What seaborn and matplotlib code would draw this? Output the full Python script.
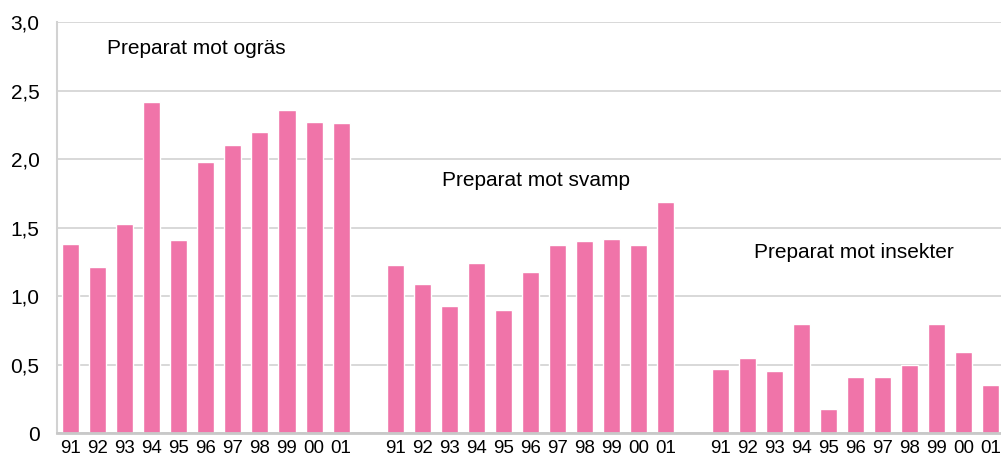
import numpy as np
import pandas as pd
import matplotlib
matplotlib.use("Agg")
import matplotlib.pyplot as plt
import seaborn as sns

# Data
years = ["91", "92", "93", "94", "95", "96", "97", "98", "99", "00", "01"]
ogras = [1.38, 1.21, 1.53, 2.42, 1.41, 1.98, 2.10, 2.20, 2.36, 2.27, 2.26]
svamp = [1.23, 1.09, 0.93, 1.24, 0.90, 1.18, 1.37, 1.40, 1.42, 1.37, 1.69]
insekter = [0.47, 0.55, 0.455, 0.80, 0.18, 0.41, 0.41, 0.50, 0.80, 0.59, 0.35]
group_names = ["Preparat mot ogräs", "Preparat mot svamp", "Preparat mot insekter"]
y_ticks = [0, 0.5, 1.0, 1.5, 2.0, 2.5, 3.0]
y_tick_labels = ["0", "0,5", "1,0", "1,5", "2,0", "2,5", "3,0"]

sns.set_style("white")
plt.rcParams["font.family"] = ["Liberation Sans", "DejaVu Sans"]

rows = []
for g, vals in enumerate([ogras, svamp, insekter]):
    for i, (yr, v) in enumerate(zip(years, vals)):
        rows.append({"pos": g * 12 + i, "year": yr, "value": v, "group": group_names[g]})
df = pd.DataFrame(rows)

fig = plt.figure(figsize=(10.01, 4.59), dpi=100)
ax = fig.add_axes([0.0574, 0.056, 0.9426, 0.896])

ax.set_axisbelow(True)
for t in y_ticks:
    ax.axhline(t, color="#d2d2d2", lw=1.2, zorder=0)

sns.barplot(data=df, x="pos", y="value", native_scale=True, color="#F074A9",
            saturation=1, width=0.63, ax=ax, zorder=2)

ax.set_xlim(-0.48, 34.38)
ax.set_ylim(0, 3.0)
ax.set_xticks(df["pos"])
ax.set_xticklabels(df["year"])
ax.set_yticks(y_ticks)
ax.set_yticklabels(y_tick_labels)
ax.tick_params(axis="y", length=0, pad=13, labelsize=15, colors="#000000")
ax.tick_params(axis="x", length=0, pad=5, labelsize=13.5, colors="#000000")
ax.set_xlabel("")
ax.set_ylabel("")

for side in ["top", "right"]:
    ax.spines[side].set_visible(False)
ax.spines["left"].set_color("#d2d2d2")
ax.spines["left"].set_linewidth(1.5)
ax.spines["bottom"].set_color("#c8c8c8")
ax.spines["bottom"].set_linewidth(2)

# Group labels
label_pos = [(1.35, 2.805), (13.72, 1.843), (25.25, 1.316)]
for name, (lx, ly) in zip(group_names, label_pos):
    ax.text(lx, ly, name, ha="left", va="center", fontsize=15, color="#000000")

fig.savefig("out.png", dpi=100)
